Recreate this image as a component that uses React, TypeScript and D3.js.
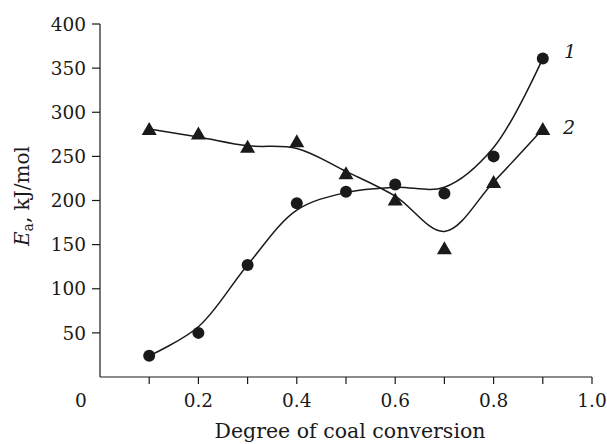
import React from 'react';
import * as d3 from 'd3';

// degree of coal conversion
const conversion = [0.1, 0.2, 0.3, 0.4, 0.5, 0.6, 0.7, 0.8, 0.9];
// measured Ea, kJ/mol
const ea1 = [24, 50, 127, 197, 210, 218, 208, 250, 361];
const ea2 = [281, 276, 261, 267, 231, 201, 146, 221, 281];
// smoothed fit curves drawn through the data
const fit1 = [24, 57, 127, 189, 209, 215, 215, 260, 361];
const fit2 = [281, 272, 262, 259, 233, 205, 165, 221, 281];

const xTicks = [0.1, 0.2, 0.3, 0.4, 0.5, 0.6, 0.7, 0.8, 0.9, 1.0];
const xTickLabels = ['0.2', '0.4', '0.6', '0.8', '1.0'];
const yTicks = [50, 100, 150, 200, 250, 300, 350, 400];

const W = 607;
const H = 444;
const FONT = 'DejaVu Serif, serif';
const INK = '#1a1a1a';

const App = () => {
  const x = d3.scaleLinear().domain([0, 1]).range([100, 592]);
  const y = d3.scaleLinear().domain([0, 400]).range([377, 24]);

  const line = d3
    .line<number>()
    .x((_, i) => x(conversion[i]))
    .y(d => y(d))
    .curve(d3.curveCatmullRom.alpha(0.5));

  const tri = (cx: number, cy: number) =>
    `M${cx},${cy - 7} L${cx + 7.5},${cy + 6} L${cx - 7.5},${cy + 6} Z`;

  return (
    <svg width={W} height={H} style={{ position: 'absolute', left: 0, top: 0, background: '#fff' }}>
      {/* axes */}
      <line x1={x(0)} x2={x(0)} y1={y(400)} y2={y(0)} stroke={INK} strokeWidth={1.2} />
      <line x1={x(0)} x2={x(1)} y1={y(0)} y2={y(0)} stroke={INK} strokeWidth={1.2} />
      {yTicks.map(t => (
        <g key={'y' + t}>
          <line x1={x(0) - 8} x2={x(0)} y1={y(t)} y2={y(t)} stroke={INK} strokeWidth={1.2} />
          <text x={x(0) - 14} y={y(t)} dy="0.36em" textAnchor="end" fontFamily={FONT} fontSize={18.5} fill={INK}>
            {t}
          </text>
        </g>
      ))}
      {xTicks.map(t => (
        <line key={'x' + t} x1={x(t)} x2={x(t)} y1={y(0)} y2={y(0) + 7} stroke={INK} strokeWidth={1.2} />
      ))}
      {xTickLabels.map(l => (
        <text key={'xl' + l} x={x(+l)} y={400} dy="0.36em" textAnchor="middle" fontFamily={FONT} fontSize={18.5} fill={INK}>
          {l}
        </text>
      ))}
      <text x={81} y={400} dy="0.36em" textAnchor="middle" fontFamily={FONT} fontSize={18.5} fill={INK}>
        0
      </text>

      {/* axis titles */}
      <text x={350} y={438} textAnchor="middle" fontFamily={FONT} fontSize={20.5} fill={INK}>
        Degree of coal conversion
      </text>
      <text
        transform={`translate(29,${y(205)}) rotate(-90)`}
        textAnchor="middle"
        fontFamily={FONT}
        fontSize={20}
        fill={INK}
      >
        <tspan fontStyle="italic">E</tspan>
        <tspan fontSize={14} dy={4}>a</tspan>
        <tspan dy={-4}>, kJ/mol</tspan>
      </text>

      {/* fitted curves */}
      <path d={line(fit1) || ''} fill="none" stroke={INK} strokeWidth={1.5} />
      <path d={line(fit2) || ''} fill="none" stroke={INK} strokeWidth={1.5} />

      {/* markers */}
      {ea1.map((v, i) => (
        <circle key={'c' + i} cx={x(conversion[i])} cy={y(v)} r={6} fill={INK} />
      ))}
      {ea2.map((v, i) => (
        <path key={'t' + i} d={tri(x(conversion[i]), y(v))} fill={INK} />
      ))}

      {/* series labels */}
      <text x={570} y={51} dy="0.36em" textAnchor="middle" fontFamily={FONT} fontStyle="italic" fontSize={19} fill={INK}>
        1
      </text>
      <text x={569} y={127} dy="0.36em" textAnchor="middle" fontFamily={FONT} fontStyle="italic" fontSize={19} fill={INK}>
        2
      </text>
    </svg>
  );
};

export default App;
